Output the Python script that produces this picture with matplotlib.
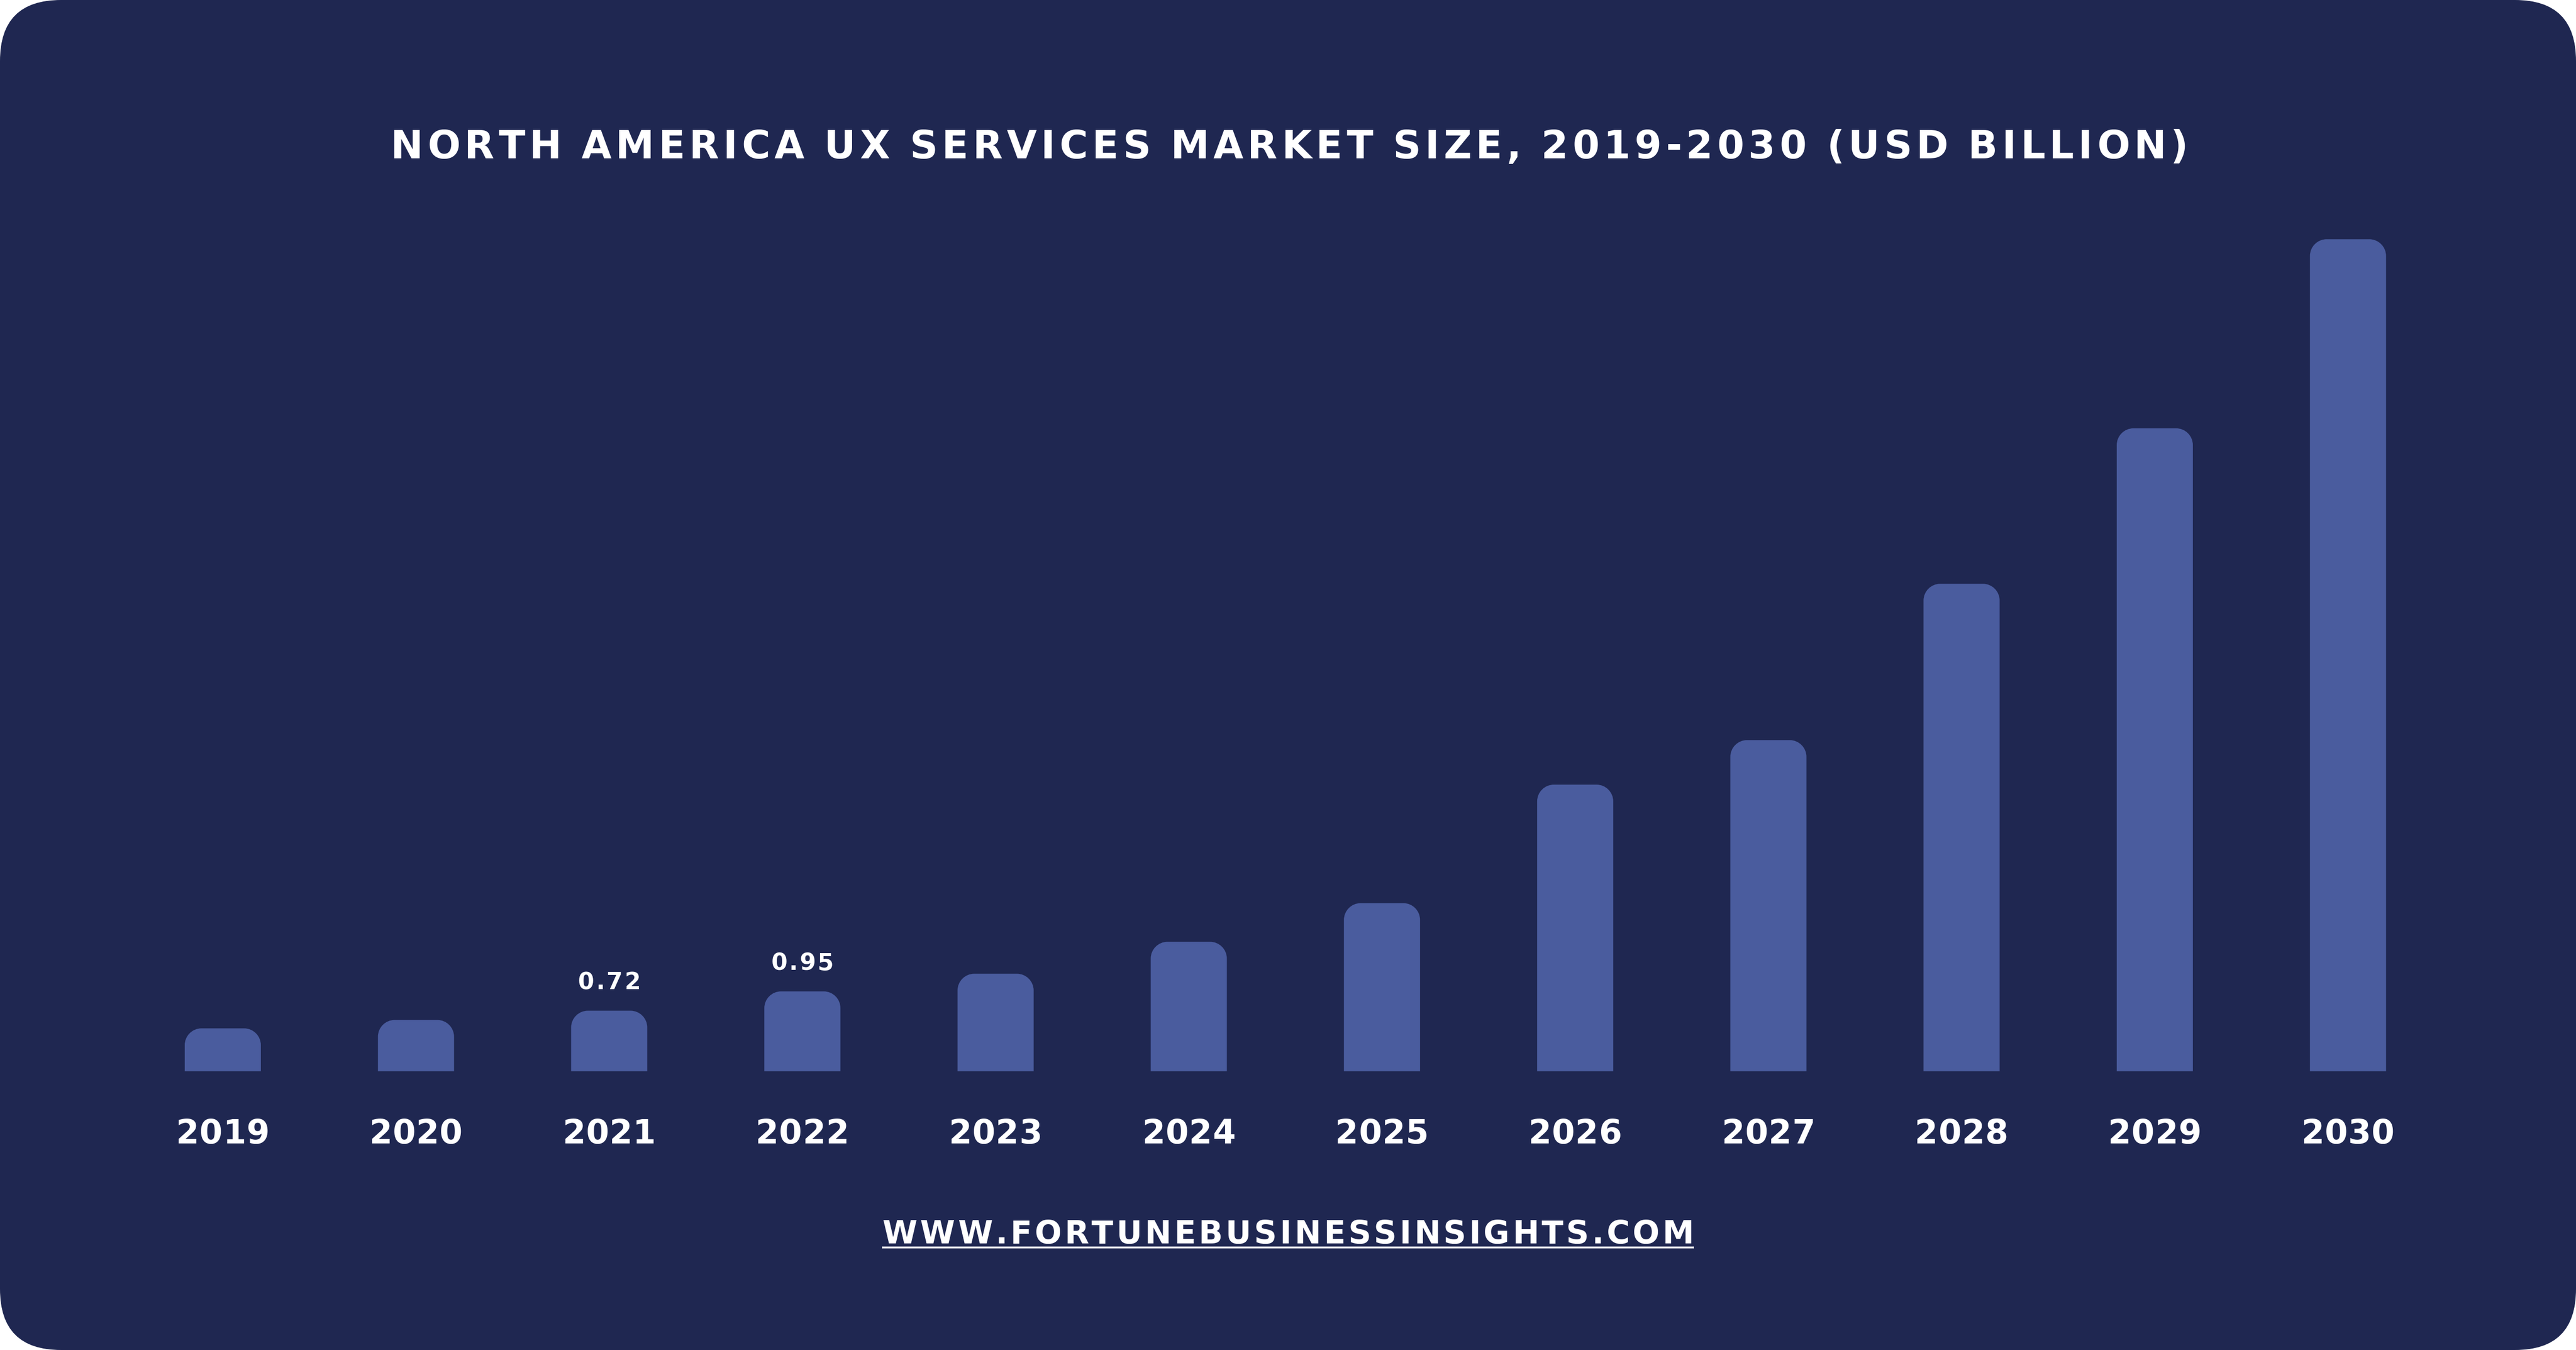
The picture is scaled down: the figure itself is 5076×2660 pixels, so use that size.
import matplotlib
matplotlib.use('Agg')
import matplotlib.pyplot as plt
from matplotlib.patches import FancyBboxPatch, PathPatch
from matplotlib.path import Path
from matplotlib.font_manager import FontProperties
from matplotlib.transforms import IdentityTransform
from matplotlib.lines import Line2D

years = ['2019', '2020', '2021', '2022', '2023', '2024', '2025', '2026', '2027', '2028', '2029', '2030']
values = [0.51, 0.61, 0.72, 0.95, 1.16, 1.54, 2.00, 3.41, 3.94, 5.80, 7.65, 9.90]
labelled = ['2021', '2022']
title = 'NORTH AMERICA UX SERVICES MARKET SIZE, 2019-2030 (USD BILLION)'
source = 'WWW.FORTUNEBUSINESSINSIGHTS.COM'

BG = '#1F2751'
BAR = '#4A5C9E'
FONT = 'DejaVu Sans'
W, H = 5076, 2660

fig = plt.figure(figsize=(W / 100, H / 100), dpi=100, facecolor='white')
bg = FancyBboxPatch((0, 0), W, H, boxstyle='round,pad=0,rounding_size=120',
                    transform=IdentityTransform(), facecolor=BG, edgecolor='none',
                    figure=fig, zorder=-10)
fig.patches.append(bg)

ax = fig.add_axes([248.65 / W, 549.3 / H, 4568.4 / W, 1821.5 / H])
ax.set_facecolor('none')
ax.axis('off')
ax.set_zorder(1)
idx = list(range(len(years)))
bars = ax.bar(idx, values, width=0.394, color=BAR)
ax.set_xlim(-0.5, len(years) - 0.5)
ax.set_ylim(0, 11)

# rounded top corners, radius in pixels converted to data units
r_px = 33
px_x = 4568.4 / len(years)
px_y = 1821.5 / 11
rx, ry = r_px / px_x, r_px / px_y
k = 0.5523
for b in bars:
    x0, x1, y1 = b.get_x(), b.get_x() + b.get_width(), b.get_height()
    b.set_visible(False)
    verts = [(x0, 0), (x0, y1 - ry), (x0, y1 - ry + k * ry), (x0 + rx - k * rx, y1), (x0 + rx, y1),
             (x1 - rx, y1), (x1 - rx + k * rx, y1), (x1, y1 - ry + k * ry), (x1, y1 - ry),
             (x1, 0), (x0, 0)]
    codes = [Path.MOVETO, Path.LINETO, Path.CURVE4, Path.CURVE4, Path.CURVE4, Path.LINETO,
             Path.CURVE4, Path.CURVE4, Path.CURVE4, Path.LINETO, Path.CLOSEPOLY]
    ax.add_patch(PathPatch(Path(verts, codes), facecolor=BAR, edgecolor='none'))

renderer = fig.canvas.get_renderer()


def char_widths(s, prop):
    ws = []
    for c in s:
        if c == ' ':
            ws.append(prop.get_size_in_points() * 100 / 72 * 0.3)
        else:
            w, h, d = renderer.get_text_width_height_descent(c, prop, ismath=False)
            ws.append(w)
    return ws


def track_gap(s, size, width):
    prop = FontProperties(family=FONT, weight='bold', size=size)
    ws = char_widths(s, prop)
    return (width - sum(ws)) / (len(s) - 1)


def spaced_text(s, xc, y, size, gap):
    prop = FontProperties(family=FONT, weight='bold', size=size)
    ws = char_widths(s, prop)
    total = sum(ws) + gap * (len(s) - 1)
    x = xc - total / 2
    for c, w in zip(s, ws):
        if c != ' ':
            fig.text(x / W, y / H, c, fontproperties=prop, color='white', ha='left', va='baseline',
                     zorder=5)
        x += w + gap
    return xc - total / 2, xc + total / 2


# title
spaced_text(title, W / 2 + 3, 2348, 55, track_gap(title, 55, 3542))

# year labels
year_gap = track_gap('2019', 47, 184)
for i, y in enumerate(years):
    xc = ax.transData.transform((i, 0))[0]
    spaced_text(y, xc, 407, 47, year_gap)

# value labels
val_gap = track_gap('0.72', 33, 123)
for i, (y, v) in enumerate(zip(years, values)):
    if y in labelled:
        xc, top = ax.transData.transform((i, v))
        spaced_text(f'{v:.2f}', xc, top + 42, 33, val_gap)

# source url with underline
l, r = spaced_text(source, W / 2, 210, 45, track_gap(source, 45, 1600))
fig.lines.append(Line2D([l / W, r / W], [202 / H, 202 / H], transform=fig.transFigure,
                        color='white', linewidth=2.6, solid_capstyle='butt', zorder=5))

fig.savefig('out.png', dpi=100, facecolor='white')
